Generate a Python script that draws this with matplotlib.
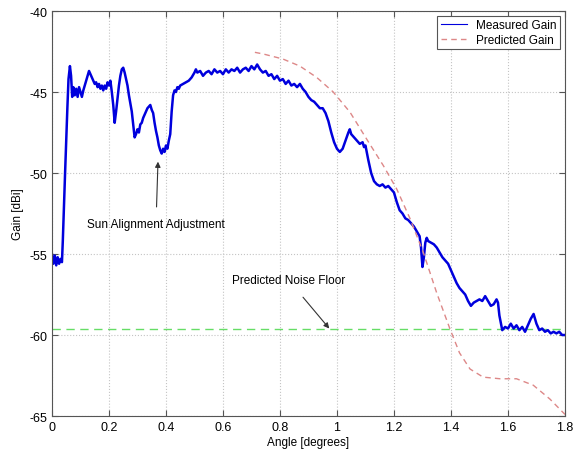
import matplotlib
matplotlib.use("Agg")
import matplotlib.pyplot as plt
from matplotlib.lines import Line2D

plt.rcParams['font.family'] = ['Liberation Sans', 'DejaVu Sans']
plt.rcParams['axes.unicode_minus'] = False

# measured gain (angle in degrees, gain in dBi)
meas_x = [0.000, 0.005, 0.010, 0.015, 0.020, 0.025, 0.030, 0.035, 0.038, 0.042,
          0.046, 0.050, 0.054, 0.058, 0.063, 0.067, 0.071, 0.075, 0.080, 0.085,
          0.090, 0.095, 0.100, 0.105, 0.110, 0.115, 0.120, 0.125, 0.130, 0.135,
          0.140, 0.145, 0.150, 0.155, 0.160, 0.165, 0.170, 0.175, 0.180, 0.185,
          0.190, 0.195, 0.200, 0.205, 0.210, 0.215, 0.220, 0.225, 0.230, 0.235,
          0.240, 0.245, 0.250, 0.255, 0.260, 0.265, 0.270, 0.275, 0.280, 0.285,
          0.290, 0.295, 0.300, 0.305, 0.310, 0.315, 0.320, 0.325, 0.330, 0.335,
          0.340, 0.345, 0.350, 0.355, 0.360, 0.365, 0.370, 0.375, 0.380, 0.385,
          0.390, 0.395, 0.400, 0.405, 0.410, 0.415, 0.420, 0.425, 0.430, 0.435,
          0.440, 0.445, 0.450, 0.460, 0.470, 0.480, 0.490, 0.500, 0.505, 0.510,
          0.520, 0.530, 0.540, 0.550, 0.560, 0.570, 0.580, 0.590, 0.600, 0.610,
          0.620, 0.630, 0.640, 0.650, 0.660, 0.670, 0.680, 0.690, 0.700, 0.710,
          0.720, 0.730, 0.740, 0.750, 0.760, 0.770, 0.780, 0.790, 0.800, 0.810,
          0.820, 0.830, 0.840, 0.850, 0.860, 0.870, 0.880, 0.890, 0.900, 0.910,
          0.920, 0.930, 0.940, 0.950, 0.960, 0.970, 0.980, 0.990, 1.000, 1.010,
          1.020, 1.030, 1.040, 1.045, 1.050, 1.060, 1.070, 1.080, 1.090, 1.095,
          1.100, 1.110, 1.120, 1.130, 1.140, 1.150, 1.160, 1.170, 1.180, 1.190,
          1.200, 1.210, 1.220, 1.230, 1.240, 1.250, 1.260, 1.270, 1.280, 1.290,
          1.295, 1.300, 1.305, 1.310, 1.315, 1.320, 1.330, 1.340, 1.350, 1.360,
          1.370, 1.380, 1.390, 1.400, 1.410, 1.420, 1.430, 1.440, 1.450, 1.460,
          1.470, 1.480, 1.490, 1.500, 1.510, 1.520, 1.530, 1.540, 1.550, 1.560,
          1.565, 1.570, 1.580, 1.590, 1.600, 1.610, 1.620, 1.630, 1.640, 1.650,
          1.660, 1.670, 1.680, 1.690, 1.700, 1.710, 1.720, 1.730, 1.740, 1.750,
          1.760, 1.770, 1.780, 1.790, 1.800]
meas_y = [-55.0, -55.6, -55.1, -55.7, -55.2, -55.6, -55.3, -55.5, -54.2, -52.0,
          -50.0, -48.0, -46.0, -44.2, -43.4, -44.0, -45.3, -44.7, -45.2, -44.8,
          -45.3, -44.7, -45.0, -45.3, -44.9, -44.6, -44.3, -44.0, -43.7, -43.9,
          -44.1, -44.3, -44.5, -44.4, -44.7, -44.5, -44.8, -44.6, -44.9, -44.6,
          -44.8, -44.4, -44.6, -44.3, -45.0, -45.8, -46.9, -46.2, -45.4, -44.6,
          -44.0, -43.6, -43.5, -43.8, -44.2, -44.6, -45.2, -45.7, -46.2, -47.0,
          -47.8, -47.6, -47.3, -47.5, -47.0, -46.9, -46.6, -46.4, -46.2, -46.0,
          -45.9, -45.8, -46.1, -46.3, -46.9, -47.4, -47.8, -48.3, -48.6, -48.8,
          -48.5, -48.7, -48.3, -48.5, -48.0, -47.6, -46.2, -45.2, -44.9, -45.0,
          -44.7, -44.8, -44.6, -44.5, -44.4, -44.3, -44.1, -43.8, -43.6, -43.8,
          -43.7, -44.0, -43.8, -43.7, -43.9, -43.6, -43.8, -43.7, -43.9, -43.6,
          -43.8, -43.6, -43.7, -43.5, -43.8, -43.6, -43.5, -43.7, -43.4, -43.6,
          -43.3, -43.6, -43.8, -43.7, -44.0, -43.9, -44.2, -44.0, -44.3, -44.2,
          -44.5, -44.3, -44.6, -44.5, -44.7, -44.5, -44.8, -45.0, -45.3, -45.5,
          -45.6, -45.8, -46.0, -46.0, -46.3, -46.8, -47.5, -48.1, -48.5, -48.7,
          -48.5, -48.0, -47.5, -47.3, -47.6, -47.8, -48.0, -48.2, -48.1, -48.4,
          -48.3, -49.2, -50.0, -50.5, -50.7, -50.8, -50.7, -50.9, -50.8, -51.0,
          -51.2, -51.8, -52.3, -52.5, -52.8, -52.9, -53.1, -53.3, -53.6, -53.9,
          -54.6, -55.8, -55.2, -54.3, -54.0, -54.2, -54.3, -54.4, -54.6, -54.9,
          -55.2, -55.4, -55.6, -56.0, -56.4, -56.8, -57.1, -57.3, -57.5, -57.9,
          -58.2, -58.0, -57.9, -57.8, -57.9, -57.6, -57.9, -58.2, -58.1, -57.8,
          -58.0, -58.8, -59.7, -59.5, -59.6, -59.3, -59.6, -59.4, -59.7, -59.5,
          -59.8, -59.4, -59.0, -58.7, -59.3, -59.7, -59.6, -59.8, -59.7, -59.9,
          -59.8, -59.9, -59.8, -60.0, -60.0]

# predicted gain
pred_x = [0.712, 0.741, 0.81, 0.87, 0.929, 0.987, 1.046, 1.104, 1.163, 1.21,
          1.256, 1.303, 1.35, 1.396, 1.43, 1.467, 1.513, 1.572, 1.63, 1.689,
          1.747, 1.8]
pred_y = [-42.55, -42.65, -42.96, -43.4, -44.1, -45.0, -46.25, -47.9, -49.55, -51.0,
          -52.8, -54.9, -57.4, -59.6, -61.1, -62.1, -62.6, -62.7, -62.7, -63.1,
          -63.95, -64.9]

noise_floor = -59.6

fig = plt.figure(figsize=(5.82, 4.52), dpi=100)
ax = fig.add_axes([0.0893, 0.0774, 0.8814, 0.8960])

ax.axhline(noise_floor, color='#66dd66', lw=1.0, ls=(0, (6, 4)))
ax.plot(meas_x, meas_y, color='#0000dd', lw=1.8)
ax.plot(pred_x, pred_y, color='#dd8888', lw=1.0, ls=(0, (4, 3)))

ax.set_xlim(0, 1.8)
ax.set_ylim(-65, -40)
ax.set_xticks([0, 0.2, 0.4, 0.6, 0.8, 1, 1.2, 1.4, 1.6, 1.8])
ax.set_xticklabels(['0', '0.2', '0.4', '0.6', '0.8', '1', '1.2', '1.4', '1.6', '1.8'])
ax.set_yticks([-65, -60, -55, -50, -45, -40])
ax.grid(True, color='#c4c4c4', ls=':', lw=0.8)
ax.tick_params(direction='in', top=True, right=True, labelsize=9, length=4,
               color='#555555')
for s in ax.spines.values():
    s.set_color('#555555')

ax.set_xlabel('Angle [degrees]', fontsize=8.5, labelpad=2)
ax.set_ylabel('Gain [dBi]', fontsize=8.5, labelpad=4)

ax.annotate('Sun Alignment Adjustment', xy=(0.372, -49.3), xytext=(0.365, -53.15),
            fontsize=8.5, ha='center', va='center',
            arrowprops=dict(arrowstyle='-|>', color='#333333', lw=0.8,
                            shrinkA=6, shrinkB=0, mutation_scale=8))
ax.annotate('Predicted Noise Floor', xy=(0.973, -59.6), xytext=(0.83, -56.6),
            fontsize=8.5, ha='center', va='center',
            arrowprops=dict(arrowstyle='-|>', color='#333333', lw=0.8,
                            shrinkA=8, shrinkB=0, mutation_scale=8))

handles = [Line2D([], [], color='#0000dd', lw=0.8),
           Line2D([], [], color='#dd8888', lw=1.0, ls=(0, (4, 3)))]
leg = ax.legend(handles, ['Measured Gain', 'Predicted Gain'], loc='upper right',
                fontsize=8.5, fancybox=False, framealpha=1, edgecolor='#555555',
                borderaxespad=0.4, handlelength=2.2, borderpad=0.3, labelspacing=0.2)
leg.get_frame().set_linewidth(0.8)

fig.savefig('out.png', dpi=100)
